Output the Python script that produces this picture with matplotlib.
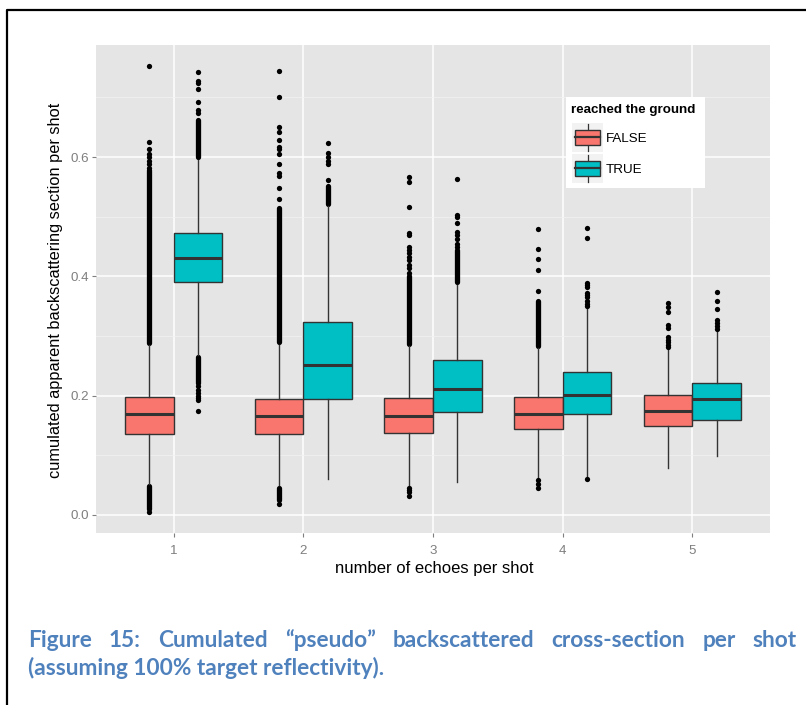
import matplotlib
matplotlib.use("Agg")
import matplotlib.pyplot as plt
from matplotlib.patches import Rectangle
from matplotlib.lines import Line2D

# ---------------- data ----------------
groups = [1, 2, 3, 4, 5]
levels = ["FALSE", "TRUE"]
x_tick_labels = ["1", "2", "3", "4", "5"]
y_ticks = [0.0, 0.2, 0.4, 0.6]
y_tick_labels = ["0.0", "0.2", "0.4", "0.6"]
y_minor = [0.1, 0.3, 0.5, 0.7]

false_q1 = [0.135, 0.135, 0.138, 0.145, 0.149]
false_med = [0.169, 0.166, 0.166, 0.170, 0.175]
false_q3 = [0.197, 0.194, 0.196, 0.198, 0.201]
false_wlo = [0.052, 0.050, 0.051, 0.064, 0.078]
false_whi = [0.285, 0.285, 0.283, 0.280, 0.276]

true_q1 = [0.391, 0.194, 0.172, 0.169, 0.160]
true_med = [0.431, 0.252, 0.211, 0.202, 0.194]
true_q3 = [0.473, 0.323, 0.260, 0.240, 0.222]
true_wlo = [0.268, 0.060, 0.056, 0.066, 0.099]
true_whi = [0.596, 0.518, 0.386, 0.347, 0.306]

false_outliers = [
    [0.752, 0.625, 0.613, 0.606, 0.600, 0.594, 0.588, 0.581, 0.005],
    [0.744, 0.700, 0.650, 0.642, 0.629, 0.617, 0.613, 0.605, 0.588, 0.574, 0.569, 0.548, 0.529, 0.018],
    [0.567, 0.559, 0.517, 0.473, 0.469, 0.450, 0.445, 0.439, 0.433, 0.427, 0.419, 0.414, 0.406,
     0.046, 0.042, 0.038, 0.032],
    [0.480, 0.446, 0.429, 0.411, 0.376, 0.059, 0.052, 0.046],
    [0.355, 0.349, 0.340, 0.318, 0.313, 0.298, 0.294, 0.290, 0.285, 0.282],
]
# ranges packed so densely with outliers that they form a solid column
false_dense = [
    [(0.289, 0.578), (0.010, 0.049)],
    [(0.290, 0.515), (0.025, 0.046)],
    [(0.287, 0.400)],
    [(0.284, 0.358)],
    [],
]
true_outliers = [
    [0.742, 0.728, 0.724, 0.715, 0.692, 0.679, 0.674,
     0.216, 0.210, 0.205, 0.200, 0.196, 0.192, 0.174],
    [0.623, 0.607, 0.600, 0.594, 0.588, 0.562],
    [0.564, 0.503, 0.499, 0.489, 0.475, 0.469, 0.462, 0.455, 0.450],
    [0.482, 0.464, 0.389, 0.386, 0.383, 0.372, 0.369, 0.366, 0.358, 0.354, 0.351, 0.060],
    [0.374, 0.359, 0.345, 0.327, 0.322, 0.317, 0.312],
]
true_dense = [
    [(0.600, 0.662), (0.222, 0.265)],
    [(0.521, 0.552)],
    [(0.390, 0.444)],
    [],
    [],
]

x_title = "number of echoes per shot"
y_title = "cumulated apparent backscattering section per shot"
legend_title = "reached the ground"
caption_line1 = "Figure 15: Cumulated \u201cpseudo\u201d backscattered cross-section per shot"
caption_line2 = "(assuming 100% target reflectivity)."

# ---------------- style ----------------
W, H = 806, 705
fill = {"FALSE": "#F8766D", "TRUE": "#00BFC4"}
edge = "#333333"
grey_txt = "#7F7F7F"
plt.rcParams["font.family"] = ["Liberation Sans", "DejaVu Sans"]

fig = plt.figure(figsize=(W / 100, H / 100), dpi=100)
fig.patch.set_facecolor("white")

def px(x, y):
    return x / W, 1 - y / H

# panel
pl, pt, pr, pb = 96, 45, 770, 533
ax = fig.add_axes([pl / W, 1 - pb / H, (pr - pl) / W, (pb - pt) / H])
ax.set_facecolor("#E5E5E5")
for s in ax.spines.values():
    s.set_visible(False)
ax.set_xlim(0.4, 5.6)
ax.set_ylim(-0.0302, 0.788)
ax.set_xticks(groups)
ax.set_xticklabels(x_tick_labels)
ax.set_yticks(y_ticks)
ax.set_yticklabels(y_tick_labels)
ax.set_yticks(y_minor, minor=True)
ax.tick_params(axis="both", which="major", colors=grey_txt, labelcolor=grey_txt,
               labelsize=9.6, length=3.2, width=0.8)
ax.tick_params(axis="x", which="major", pad=5.5)
ax.tick_params(axis="y", which="major", pad=2.0)
ax.tick_params(axis="y", which="minor", length=0)
ax.grid(True, which="major", color="white", linewidth=1.1)
ax.grid(True, which="minor", axis="y", color="#F2F2F2", linewidth=0.55)
ax.set_axisbelow(True)

bw = 0.375
offsets = {"FALSE": -bw / 2, "TRUE": bw / 2}
series = {
    "FALSE": (false_q1, false_med, false_q3, false_wlo, false_whi, false_outliers, false_dense),
    "TRUE": (true_q1, true_med, true_q3, true_wlo, true_whi, true_outliers, true_dense),
}
msize = 3.8
for lev in levels:
    q1, med, q3, wlo, whi, outs, dense = series[lev]
    stats = []
    pos = []
    for i, g in enumerate(groups):
        stats.append(dict(q1=q1[i], med=med[i], q3=q3[i], whislo=wlo[i], whishi=whi[i],
                          fliers=outs[i]))
        pos.append(g + offsets[lev])
        for lo, hi in dense[i]:
            ax.plot([g + offsets[lev]] * 2, [lo, hi], color="black", lw=msize,
                    solid_capstyle="round", zorder=3)
    ax.bxp(stats, positions=pos, widths=bw, patch_artist=True, showcaps=False,
           manage_ticks=False,
           boxprops=dict(facecolor=fill[lev], edgecolor=edge, linewidth=1.0),
           medianprops=dict(color=edge, linewidth=2.2),
           whiskerprops=dict(color=edge, linewidth=1.0),
           flierprops=dict(marker="o", markerfacecolor="black", markeredgecolor="black",
                           markersize=msize, markeredgewidth=0),
           zorder=4)

# axis titles
fig.text(*px(434, 569), x_title, ha="center", va="center", fontsize=12, color="black")
fig.text(*px(56, 290), y_title, ha="center", va="center", rotation=90, fontsize=11.8,
         color="black")

# legend
lx0, ly0, lx1, ly1 = 565.7, 97.3, 705, 188.3
lax = fig.add_axes([lx0 / W, 1 - ly1 / H, (lx1 - lx0) / W, (ly1 - ly0) / H])
lax.set_xlim(lx0, lx1)
lax.set_ylim(ly1, ly0)
lax.set_facecolor("white")
lax.set_xticks([])
lax.set_yticks([])
for s in lax.spines.values():
    s.set_visible(False)
lax.text(571, 110, legend_title, fontsize=9.6, fontweight="bold", ha="left", va="center")
key_rows = [(123, "FALSE"), (154, "TRUE")]
for top, lev in key_rows:
    lax.add_patch(Rectangle((572, top), 31, 29, facecolor="#F2F2F2", edgecolor="none"))
    cx = 587.5
    lax.plot([cx, cx], [top + 1, top + 28], color=edge, lw=0.9)
    lax.add_patch(Rectangle((575, top + 6.5), 25, 15.5, facecolor=fill[lev],
                            edgecolor=edge, lw=1.0, zorder=3))
    lax.plot([575, 600], [top + 14.3, top + 14.3], color=edge, lw=1.6, zorder=4)
    lax.text(606, top + 15.5, lev, fontsize=9.6, ha="left", va="center", color="black")

# frame
fig.add_artist(Line2D([7.5 / W, 7.5 / W, 1.0], [0.0, 1 - 9.5 / H, 1 - 9.5 / H],
                      transform=fig.transFigure, color="black", lw=1.6))

# caption
cap_color = "#4F81BD"
cap_font = ["Lato", "DejaVu Sans"]
renderer = fig.canvas.get_renderer()
t2 = fig.text(*px(28, 675), caption_line2, fontsize=15, fontweight="bold",
              family=cap_font, color=cap_color, ha="left", va="baseline")
w2 = t2.get_window_extent(renderer=renderer).width
fs = 15 * 356 / w2
t2.set_fontsize(fs)

words = caption_line1.split(" ")
wts = []
widths = []
for wd in words:
    t = fig.text(0, 1 - 647.0 / H, wd, fontsize=fs, fontweight="bold", family=cap_font,
                 color=cap_color, ha="left", va="baseline")
    wts.append(t)
    widths.append(t.get_window_extent(renderer=renderer).width)
x_left, x_right = 28, 797
gap = (x_right - x_left - sum(widths)) / (len(words) - 1)
xc = x_left
for t, wdt in zip(wts, widths):
    t.set_x(xc / W)
    xc += wdt + gap

fig.savefig("out.png", dpi=100)
